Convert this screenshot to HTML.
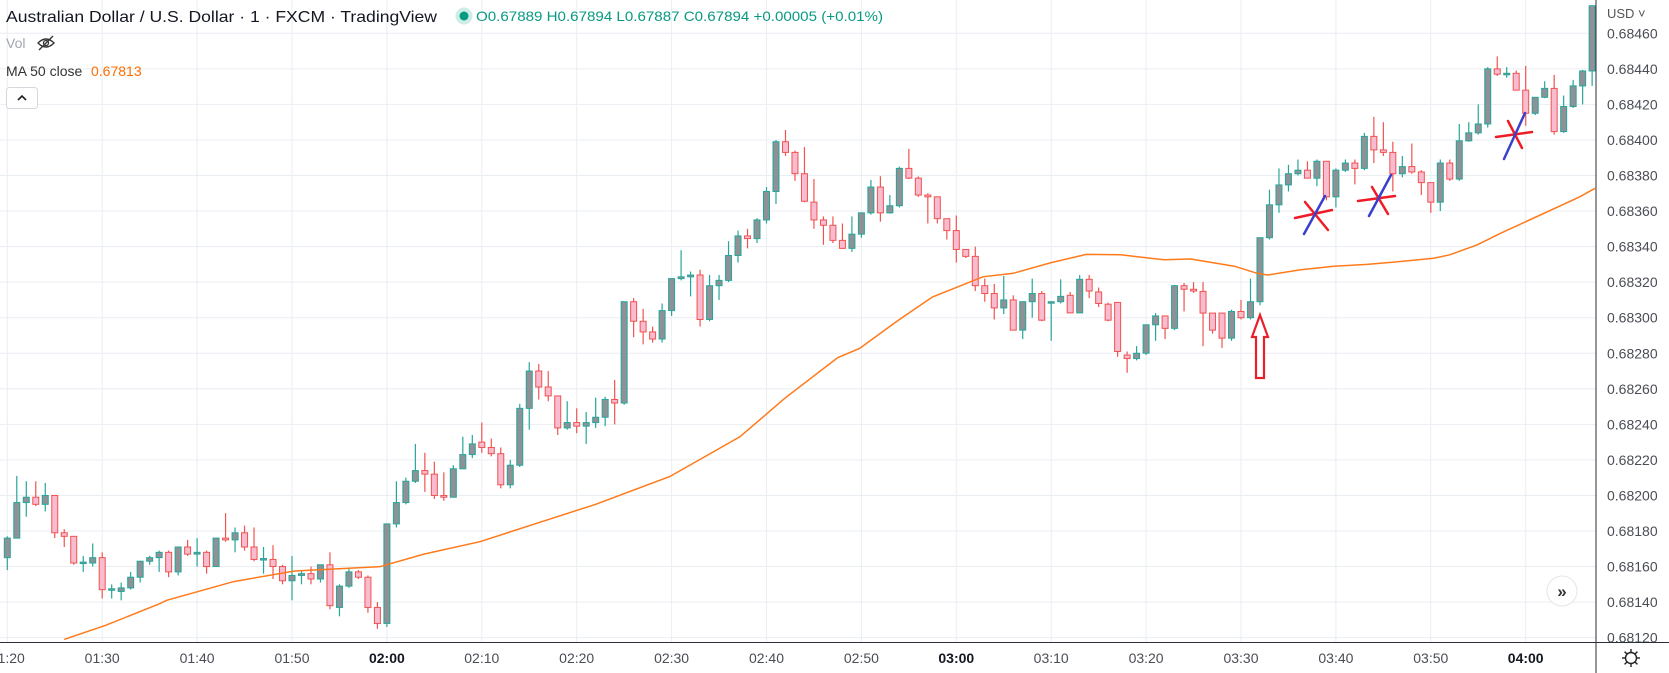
<!DOCTYPE html>
<html><head><meta charset="utf-8">
<style>
html,body{margin:0;padding:0;background:#fff;width:1669px;height:673px;overflow:hidden}
svg{display:block;font-family:"Liberation Sans",sans-serif}
</style></head>
<body>
<svg id="chart" width="1669" height="673" viewBox="0 0 1669 673" xmlns="http://www.w3.org/2000/svg">
<defs><clipPath id="plotClip"><rect x="0" y="0" width="1596" height="642"/></clipPath></defs>
<rect x="0" y="0" width="1669" height="673" fill="#fff"/>
<g id="grid"></g>
<g id="plot" clip-path="url(#plotClip)">
  <g id="candles"></g>
  <path id="ma" fill="none" stroke="#ff7a1a" stroke-width="1.5"/>
  <g>
    <path d="M1260 315 L1268 337 L1264 337 L1264 378 L1256 378 L1256 337 L1252 337 Z" fill="#fff" stroke="#e8202a" stroke-width="2.2"/>
    <g stroke-width="2.5" stroke-linecap="round">
      <line x1="1295" y1="218" x2="1332" y2="210" stroke="#ee1c25"/>
      <line x1="1305" y1="202" x2="1328" y2="230" stroke="#ee1c25"/>
      <line x1="1304" y1="234" x2="1325" y2="196" stroke="#3a3fd0"/>
    </g>
    <g stroke-width="2.5" stroke-linecap="round">
      <line x1="1358" y1="201" x2="1395" y2="196" stroke="#ee1c25"/>
      <line x1="1372" y1="187" x2="1388" y2="214" stroke="#ee1c25"/>
      <line x1="1369" y1="216" x2="1391" y2="175" stroke="#3a3fd0"/>
    </g>
    <g stroke-width="2.5" stroke-linecap="round">
      <line x1="1496" y1="137" x2="1532" y2="132" stroke="#ee1c25"/>
      <line x1="1508" y1="121" x2="1522" y2="148" stroke="#ee1c25"/>
      <line x1="1504" y1="159" x2="1525" y2="113" stroke="#3a3fd0"/>
    </g>
  </g>
</g>
<g id="yaxis"></g>
<g id="xaxis"></g>
<line x1="1596" y1="0" x2="1596" y2="673" stroke="#2a2e39" stroke-width="1"/>
<line x1="0" y1="642.5" x2="1669" y2="642.5" stroke="#2a2e39" stroke-width="1"/>
<text x="1607" y="18" font-size="13" fill="#555">USD ˅</text>
<g transform="translate(1631,658)" fill="none" stroke="#222" stroke-width="1.4">
  <circle r="5.5"/>
  <line x1="0" y1="-9" x2="0" y2="-5.5"/><line x1="0" y1="9" x2="0" y2="5.5"/>
  <line x1="-9" y1="0" x2="-5.5" y2="0"/><line x1="9" y1="0" x2="5.5" y2="0"/>
  <line x1="-6.4" y1="-6.4" x2="-3.9" y2="-3.9"/><line x1="6.4" y1="6.4" x2="3.9" y2="3.9"/>
  <line x1="-6.4" y1="6.4" x2="-3.9" y2="3.9"/><line x1="6.4" y1="-6.4" x2="3.9" y2="-3.9"/>
</g>
<g>
  <circle cx="1562" cy="591" r="15" fill="#fff" stroke="#e3e6ea"/>
  <text x="1562" y="597" font-size="17" font-weight="bold" text-anchor="middle" fill="#333">»</text>
</g>
<g>
  <text x="6" y="22" font-size="16" fill="#131722" textLength="431" lengthAdjust="spacingAndGlyphs">Australian Dollar / U.S. Dollar · 1 · FXCM · TradingView</text>
  <circle cx="464" cy="16" r="8.5" fill="#cdeee7"/>
  <circle cx="464" cy="16" r="4.5" fill="#089981"/>
  <text x="476" y="21" font-size="14" fill="#089981" textLength="407" lengthAdjust="spacingAndGlyphs">O0.67889 H0.67894 L0.67887 C0.67894 +0.00005 (+0.01%)</text>
  <text x="6" y="48" font-size="14" fill="#a3a6af">Vol</text>
  <g fill="none" stroke="#333" stroke-width="1.3">
    <path d="M38 43 Q46 35 54 43 Q46 51 38 43 Z"/><circle cx="46" cy="43" r="2.5"/><line x1="39" y1="50" x2="53" y2="36"/>
  </g>
  <text x="6" y="76" font-size="14" fill="#333">MA 50 close</text>
  <text x="91" y="76" font-size="14" fill="#ff6d00">0.67813</text>
  <g>
    <rect x="6.5" y="87.5" width="31" height="21" rx="3" fill="#fff" stroke="#d6d8de"/>
    <path d="M18 100 L22 96 L26 100" fill="none" stroke="#222" stroke-width="1.6"/>
  </g>
</g>
</svg>
<script>
const opens=[0.68165,0.68176,0.68196,0.68199,0.68195,0.68200,0.68179,0.68177,0.68162,0.68162,0.68165,0.68147,0.68146,0.68148,0.68154,0.68163,0.68165,0.68168,0.68157,0.68171,0.68167,0.68168,0.68160,0.68176,0.68175,0.68179,0.68171,0.68164,0.68164,0.68160,0.68152,0.68155,0.68156,0.68153,0.68161,0.68137,0.68149,0.68157,0.68154,0.68137,0.68128,0.68184,0.68196,0.68208,0.68214,0.68212,0.68200,0.68199,0.68215,0.68223,0.68230,0.68227,0.682235,0.68206,0.68217,0.68249,0.68270,0.68261,0.68256,0.68238,0.68241,0.68239,0.68241,0.68244,0.68254,0.68252,0.68309,0.68298,0.68292,0.68288,0.68304,0.68322,0.68323,0.68324,0.68299,0.68318,0.68321,0.68335,0.68346,0.683445,0.68355,0.68371,0.68399,0.68393,0.68381,0.68365,0.68355,0.68352,0.683435,0.68339,0.68347,0.68359,0.683735,0.68359,0.68363,0.68384,0.683785,0.68369,0.68368,0.683557,0.68349,0.683384,0.683345,0.68318,0.683136,0.683055,0.68310,0.68293,0.68309,0.683136,0.683086,0.68309,0.683126,0.683027,0.683216,0.683145,0.683076,0.683086,0.68279,0.68277,0.68280,0.68296,0.68301,0.68294,0.68318,0.68316,0.683148,0.683026,0.683026,0.682885,0.683035,0.68300,0.68309,0.68345,0.683635,0.683747,0.68381,0.68383,0.683785,0.68388,0.68368,0.68383,0.68387,0.68384,0.68402,0.683944,0.68393,0.68381,0.68385,0.68382,0.68376,0.68365,0.68387,0.68378,0.683995,0.68404,0.68409,0.68440,0.68437,0.684375,0.68428,0.68415,0.68424,0.68429,0.684047,0.684188,0.684304,0.684388];
const highs=[0.68177,0.68211,0.68208,0.68208,0.68207,0.68200,0.68181,0.68177,0.68166,0.68173,0.68168,0.68150,0.68151,0.68157,0.68163,0.68166,0.68169,0.68169,0.68171,0.68175,0.68176,0.68169,0.68176,0.68190,0.68182,0.68183,0.68182,0.68171,0.68172,0.68161,0.68166,0.68158,0.68160,0.68161,0.68168,0.68150,0.68159,0.68158,0.68155,0.68140,0.68184,0.68208,0.68210,0.68229,0.68224,0.68219,0.68213,0.68217,0.68233,0.68234,0.68241,0.68232,0.68227,0.68220,0.682515,0.68275,0.68274,0.68270,0.68256,0.68253,0.68249,0.68247,0.68255,0.682555,0.68265,0.68309,0.68311,0.68305,0.68295,0.68308,0.68322,0.68338,0.68326,0.68327,0.68324,0.68324,0.68343,0.68349,0.68350,0.68356,0.683735,0.68400,0.684056,0.68394,0.68396,0.68378,0.68357,0.68357,0.68353,0.68357,0.68359,0.683775,0.683796,0.68369,0.68385,0.68395,0.683795,0.68370,0.68368,0.683557,0.683575,0.683384,0.68340,0.68322,0.68319,0.683235,0.683126,0.68309,0.68322,0.68315,0.68309,0.683216,0.683145,0.68324,0.68324,0.68317,0.683085,0.68299,0.68281,0.68284,0.68296,0.683026,0.68301,0.683185,0.683195,0.68320,0.68320,0.68300,0.68294,0.683045,0.68310,0.68322,0.68345,0.68372,0.68384,0.68386,0.68389,0.68388,0.68389,0.68388,0.68384,0.68389,0.68389,0.68404,0.68413,0.68410,0.68399,0.68391,0.68398,0.68383,0.68376,0.68389,0.68389,0.68409,0.68410,0.68420,0.68441,0.68447,0.68441,0.68439,0.684416,0.68424,0.68433,0.684366,0.68425,0.684338,0.684394,0.684755];
const lows=[0.68158,0.68176,0.68188,0.68194,0.68191,0.68176,0.68171,0.68161,0.68157,0.68160,0.68142,0.68142,0.68141,0.68147,0.68151,0.68161,0.68157,0.68154,0.68155,0.68166,0.68160,0.68156,0.68160,0.68174,0.68168,0.68169,0.68163,0.68156,0.68153,0.68150,0.68141,0.68150,0.68150,0.68151,0.68136,0.68132,0.68148,0.68153,0.68134,0.68125,0.68126,0.68182,0.68195,0.68207,0.68202,0.68198,0.68197,0.68199,0.68215,0.68221,0.68224,0.68222,0.68204,0.68204,0.68216,0.68237,0.68254,0.68253,0.68234,0.68237,0.68235,0.68229,0.68238,0.68239,0.68240,0.68251,0.68289,0.68285,0.68286,0.68286,0.68301,0.68321,0.68312,0.68295,0.68298,0.68310,0.68320,0.68331,0.68339,0.68342,0.68353,0.68364,0.68391,0.68377,0.68365,0.68350,0.68341,0.68342,0.68339,0.68337,0.68345,0.68358,0.68354,0.683585,0.68362,0.68378,0.68368,0.68353,0.68353,0.68344,0.68331,0.683336,0.68315,0.68309,0.68299,0.68302,0.68293,0.68288,0.68300,0.68298,0.68287,0.68308,0.683027,0.683027,0.68311,0.68306,0.68298,0.68278,0.68269,0.68276,0.68279,0.68287,0.68288,0.68293,0.683035,0.68314,0.68284,0.68291,0.68283,0.68287,0.68299,0.68299,0.68307,0.68344,0.68359,0.68371,0.68380,0.683785,0.68374,0.68366,0.68362,0.68382,0.68375,0.68383,0.68387,0.68391,0.68371,0.68379,0.68381,0.68369,0.68359,0.68360,0.68377,0.68377,0.68399,0.68403,0.68407,0.68436,0.68435,0.68428,0.68408,0.68414,0.684235,0.68403,0.68404,0.68418,0.68420,0.684304];
const closes=[0.68176,0.68196,0.68199,0.68195,0.68200,0.68179,0.68177,0.68162,0.681625,0.68165,0.68147,0.681475,0.68148,0.68154,0.68163,0.68165,0.68168,0.68157,0.68171,0.68167,0.68168,0.68160,0.68176,0.68175,0.68179,0.68171,0.68164,0.681645,0.68160,0.68152,0.68155,0.68156,0.68153,0.68161,0.68138,0.68149,0.68157,0.68154,0.68137,0.68128,0.68184,0.68196,0.68208,0.68214,0.68212,0.68200,0.68199,0.68215,0.68223,0.68229,0.68227,0.682235,0.68206,0.68217,0.68249,0.68270,0.68261,0.68256,0.68238,0.68241,0.68239,0.68241,0.68244,0.68254,0.68252,0.68309,0.68298,0.68292,0.68288,0.68304,0.68322,0.68323,0.68324,0.68299,0.68318,0.68321,0.68335,0.68346,0.683445,0.68355,0.68371,0.68399,0.68393,0.68381,0.683655,0.68355,0.68352,0.683435,0.68339,0.68347,0.68359,0.683735,0.68359,0.68363,0.68384,0.683785,0.68369,0.68368,0.683557,0.68349,0.683384,0.683345,0.68318,0.683136,0.683055,0.68310,0.68293,0.68309,0.683136,0.682986,0.68309,0.68312,0.683027,0.683216,0.68315,0.68308,0.682986,0.68281,0.68277,0.68280,0.68296,0.68301,0.68294,0.68318,0.68316,0.68315,0.683026,0.68293,0.682885,0.683035,0.68300,0.68309,0.68345,0.683635,0.683747,0.68381,0.68383,0.683785,0.68388,0.68368,0.68383,0.68387,0.68384,0.68402,0.683944,0.68393,0.68381,0.68385,0.68382,0.68376,0.68365,0.68387,0.68378,0.683995,0.68404,0.68409,0.68440,0.68437,0.684375,0.68428,0.68415,0.68424,0.68429,0.684047,0.684188,0.684304,0.684388,0.684755];
const maIndex=[6,10.4,16,16.8,23.8,29.5,30.3,39.3,43.9,49.8,55,62,69.8,77.2,82,87.5,89.8,94,97.5,102.8,106,110,113.7,117.3,121.9,124.7,129.3,131.7,132.8,136.3,139.8,143.3,146.8,150.3,152,154.9,157.4,165.7,167.3];
const maValues=[0.68119,0.68127,0.68139,0.68141,0.681515,0.681568,0.681575,0.68160,0.68167,0.68174,0.68183,0.68195,0.682106,0.68233,0.68255,0.682775,0.682827,0.68299,0.683117,0.68323,0.68325,0.68331,0.683356,0.683354,0.683326,0.68333,0.68329,0.68325,0.68324,0.68327,0.68329,0.68330,0.683316,0.683335,0.683354,0.68341,0.683476,0.68368,0.683728];
const priceTicks=["0.68460","0.68440","0.68420","0.68400","0.68380","0.68360","0.68340","0.68320","0.68300","0.68280","0.68260","0.68240","0.68220","0.68200","0.68180","0.68160","0.68140","0.68120"];
const timeTicks=["01:20","01:30","01:40","01:50","02:00","02:10","02:20","02:30","02:40","02:50","03:00","03:10","03:20","03:30","03:40","03:50","04:00"];

const NS="http://www.w3.org/2000/svg";
function yOf(p){return 33.3+(0.68460-p)/0.0002*35.55;}
function xOf(i){return 7.3+i*9.49;}
function mk(tag,attrs,parent){const e=document.createElementNS(NS,tag);for(const k in attrs)e.setAttribute(k,attrs[k]);parent.appendChild(e);return e;}

const grid=document.getElementById('grid');
const yaxis=document.getElementById('yaxis');
const xaxis=document.getElementById('xaxis');
priceTicks.forEach(t=>{
  const y=yOf(parseFloat(t));
  const gl=mk('line',{x1:0,x2:1596,y1:y,y2:y,stroke:'#e9eef3','stroke-width':1},grid);
  
  
  const tx=mk('text',{x:1607,y:y+5,'font-size':14,fill:'#4a4d55'},yaxis);
  tx.textContent=t;
  
  
});
timeTicks.forEach((t,k)=>{
  const x=xOf(k*10);
  const gl=mk('line',{x1:x,x2:x,y1:0,y2:642,stroke:'#e9eef3','stroke-width':1},grid);
  
  
  const bold=t.endsWith(':00');
  const tx=mk('text',{x:x,y:663,'font-size':14,'text-anchor':'middle',fill:bold?'#131722':'#4a4d55','font-weight':bold?'bold':'normal'},xaxis);
  tx.textContent=t;
  
  
});
mk('rect',{x:1597,y:643,width:72,height:30,fill:'#fff'},xaxis);

const cg=document.getElementById('candles');
for(let i=0;i<closes.length;i++){
  const up=closes[i]>=opens[i];
  const x=xOf(i);
  const g=mk('g',{},cg);
  
  
  mk('line',{x1:x,x2:x,y1:yOf(highs[i]),y2:yOf(lows[i]),stroke:up?'#26a69a':'#ef5350','stroke-width':1.2},g);
  const yt=yOf(Math.max(opens[i],closes[i])), yb=yOf(Math.min(opens[i],closes[i]));
  mk('rect',{x:x-3,y:yt,width:6,height:Math.max(1.5,yb-yt),fill:up?'#8e9195':'#f8bbd0',stroke:up?'#26a69a':'#ef5350','stroke-width':1},g);
}
let d='';
maIndex.forEach((v,k)=>{d+=(k?'L':'M')+xOf(v).toFixed(1)+' '+yOf(maValues[k]).toFixed(1)+' ';});
document.getElementById('ma').setAttribute('d',d);
</script>
</body></html>
